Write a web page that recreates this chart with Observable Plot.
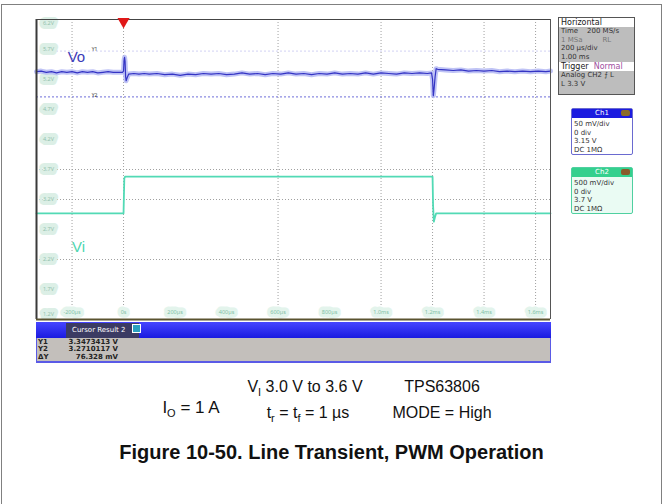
<!DOCTYPE html>
<html><head><meta charset="utf-8">
<script src="https://cdn.jsdelivr.net/npm/d3@7"></script>
<script src="https://cdn.jsdelivr.net/npm/@observablehq/plot@0.6"></script>
<style>
body{margin:0;background:#fff;font-family:Arial,"Liberation Sans",sans-serif;}
#page{position:relative;width:663px;height:504px;overflow:hidden;background:#fff;}
.abs{position:absolute;}
#frame{left:1px;top:4px;width:659px;height:520px;border:1.5px solid #808080;}
.tiny{font-family:"DejaVu Sans",Arial,sans-serif;font-size:7px;line-height:8px;white-space:nowrap;}
.cap{font-size:16px;line-height:18px;color:#111;text-align:center;white-space:nowrap;}
sub{font-size:11px;vertical-align:-4px;line-height:0;}
</style></head><body><div id="page">
<div id="frame" class="abs"></div>
<div id="chart" class="abs" style="left:0;top:0"></div>

<!-- cursor results panel -->
<div class="abs" style="left:36px;top:322px;width:515px;height:16px;background:linear-gradient(#4646ff,#1a1ae0);"></div>
<div class="abs tiny" style="left:66px;top:323px;width:73px;height:15px;background:#3b3b63;color:#fff;line-height:15px;padding-left:6px;box-sizing:border-box;">Cursor Result 2<span style="display:inline-block;width:7px;height:7px;background:#2aa0c0;border:1px solid #fff;margin-left:6px;vertical-align:-1px"></span></div>
<div class="abs" style="left:36px;top:338px;width:515px;height:25px;background:#c3bfbb;border-bottom:2px solid #5a5ae6;border-left:1px solid #5a5ae6;border-right:1px solid #5a5ae6;box-sizing:border-box;"></div>
<div class="abs tiny" style="left:38px;top:339px;line-height:7.3px;font-weight:bold;color:#222;">Y1<br>Y2<br>ΔY</div>
<div class="abs tiny" style="left:60px;top:339px;width:58px;line-height:7.3px;text-align:right;font-weight:bold;color:#222;">3.3473413 V<br>3.2710117 V<br>76.328 mV</div>

<!-- Horizontal panel -->
<div class="abs" style="left:558px;top:17px;width:77px;height:78px;background:#bdbdbd;border:1px solid #555;box-sizing:border-box;overflow:hidden;">
 <div class="tiny" style="background:#fff;color:#222;font-size:8px;line-height:9px;padding-left:2px;">Horizontal</div>
 <div class="tiny" style="color:#333;padding-left:2px;line-height:8.5px;">Time&nbsp;&nbsp;&nbsp;&nbsp;200 MS/s<br><span style="color:#777">1 MSa&nbsp;&nbsp;&nbsp;&nbsp;&nbsp;&nbsp;&nbsp;&nbsp;&nbsp;RL</span><br>200 µs/div<br>1.00 ms</div>
 <div class="tiny" style="background:#fff;color:#222;font-size:8px;line-height:9px;padding-left:2px;margin-top:1px;">Trigger&nbsp;&nbsp;<span style="color:#a050a0">Normal</span></div>
 <div class="tiny" style="color:#333;padding-left:2px;line-height:8.5px;">Analog&nbsp;CH2&nbsp;⨍&nbsp;L<br>L&nbsp;3.3 V</div>
</div>

<!-- Ch1 panel -->
<div class="abs" style="left:571px;top:108px;width:62px;height:47px;background:#fff;border:1px solid #6a6ad0;box-sizing:border-box;border-radius:2px;">
 <div class="tiny" style="background:#1c1ce0;color:#fff;height:9px;line-height:9px;text-align:center;position:relative;">Ch1<span style="position:absolute;right:2px;top:1px;width:9px;height:6px;background:#8a6b2a;border-radius:2px"></span></div>
 <div class="tiny" style="color:#333;padding-left:2px;line-height:8.5px;margin-top:2px;">50 mV/div<br>0 div<br>3.15 V<br>DC 1MΩ</div>
</div>

<!-- Ch2 panel -->
<div class="abs" style="left:571px;top:167px;width:62px;height:47px;background:#eafbf3;border:1px solid #4fd0a0;box-sizing:border-box;border-radius:2px;">
 <div class="tiny" style="background:#34d08e;color:#fff;height:9px;line-height:9px;text-align:center;position:relative;">Ch2<span style="position:absolute;right:2px;top:1px;width:9px;height:6px;background:#8a5a2a;border-radius:2px"></span></div>
 <div class="tiny" style="color:#333;padding-left:2px;line-height:8.5px;margin-top:2px;">500 mV/div<br>0 div<br>3.7 V<br>DC 1MΩ</div>
</div>

<!-- conditions -->
<div class="abs cap" style="left:131px;top:399px;width:120px;font-size:17px;">I<sub>O</sub> = 1 A</div>
<div class="abs cap" style="left:225px;top:378px;width:160px;">V<sub>I</sub> 3.0 V to 3.6 V</div>
<div class="abs cap" style="left:228px;top:404px;width:160px;">t<sub>r</sub> = t<sub>f</sub> = 1 µs</div>
<div class="abs cap" style="left:382px;top:378px;width:120px;">TPS63806</div>
<div class="abs cap" style="left:382px;top:404px;width:120px;">MODE = High</div>
<div class="abs cap" style="left:0;top:440px;width:663px;font-size:20px;line-height:24px;font-weight:bold;">Figure 10-50. Line Transient, PWM Operation</div>
</div>
<script>
// Vo (Ch1) trace: time in µs, volts
const voTime = [-338,-320,-300,-280,-260,-240,-220,-200,-180,-160,-140,-120,-100,-80,-60,-40,-20,-4,0,2,4,6,8,10,14,20,40,60,80,100,130,160,190,220,250,280,310,340,370,400,430,460,490,520,550,580,610,640,670,700,730,760,790,820,850,880,910,940,970,1000,1030,1060,1090,1120,1150,1180,1196,1200,1203,1206,1210,1214,1220,1250,1280,1310,1340,1370,1400,1430,1460,1490,1520,1550,1580,1610,1640,1658];
const voVolt = [3.313,3.314,3.312,3.313,3.311,3.313,3.312,3.313,3.311,3.313,3.312,3.313,3.311,3.312,3.313,3.312,3.312,3.312,3.314,3.332,3.337,3.330,3.305,3.298,3.303,3.309,3.310,3.309,3.310,3.309,3.310,3.308,3.309,3.307,3.309,3.308,3.310,3.309,3.310,3.308,3.309,3.311,3.309,3.310,3.308,3.310,3.309,3.311,3.309,3.310,3.308,3.310,3.309,3.311,3.309,3.310,3.309,3.311,3.309,3.311,3.310,3.309,3.311,3.310,3.311,3.310,3.311,3.300,3.273,3.285,3.305,3.318,3.317,3.316,3.315,3.316,3.314,3.315,3.314,3.315,3.313,3.314,3.313,3.314,3.313,3.314,3.313,3.314];
// Vi (Ch2) trace
const viTime = [-338,-2,0,3,6,1198,1200,1202,1205,1209,1214,1658];
const viVolt = [2.97,2.97,2.97,3.55,3.58,3.58,3.58,3.10,2.83,2.90,2.97,2.97];
// channel settings (V/div, offset V)
const ch1Scale = 0.05, ch1Offset = 3.15;
const ch2Scale = 0.5, ch2Offset = 3.7;
// axes
const gridTimes = [-200,0,600,1000,1200,1400,1600];
const gridDivs = [0,-1,-3];
const labelTimes = [-200,0,200,400,600,800,1000,1200,1400,1600];
const timeLabels = ["-200µs","0s","200µs","400µs","600µs","800µs","1.0ms","1.2ms","1.4ms","1.6ms"];
const levelDivs = [5,4,3,2,1,0,-1,-2,-3,-4,-5];
const levelLabels = ["6.2V","5.7V","5.2V","4.7V","4.2V","3.7V","3.2V","2.7V","2.2V","1.7V","1.2V"];
const cursorNames = ["Y1","Y2"];
const cursorVolts = [3.3473413, 3.2710117];
const traceNames = ["Vo","Vi"];
const traceLabelTime = [-183,-175];
const traceLabelDiv = [3.73,-2.6];

const vo = voTime.map((t,i)=>({t, d:(voVolt[i]-ch1Offset)/ch1Scale}));
const vi = viTime.map((t,i)=>({t, d:(viVolt[i]-ch2Offset)/ch2Scale}));
const cur = cursorVolts.map((v,i)=>({name:cursorNames[i], d:(v-ch1Offset)/ch1Scale, op: i===0?0.25:0.8}));
const lev = levelDivs.map((d,i)=>({d:Math.max(-4.83,Math.min(4.87,d)), s:levelLabels[i]}));
const tl = labelTimes.map((t,i)=>({t, s:timeLabels[i]}));
const tr = traceNames.map((s,i)=>({s, t:traceLabelTime[i], d:traceLabelDiv[i]}));

const chart = Plot.plot({
  width:663, height:370,
  marginLeft:36, marginRight:113, marginTop:19, marginBottom:51,
  style:{background:"transparent", overflow:"visible"},
  x:{domain:[-338,1658], axis:null},
  y:{domain:[-5,5], axis:null},
  marks:[
    Plot.ruleX(gridTimes,{stroke:"#a0a0a0", strokeDasharray:"1,2"}),
    Plot.ruleY(gridDivs,{stroke:"#a0a0a0", strokeDasharray:"1,2"}),
    Plot.ruleY(cur,{y:"d", stroke:"#4a4ad0", strokeDasharray:"2,2", strokeOpacity:"op"}),
    Plot.text(cur,{x:-338, y:"d", text:"name", dx:58, dy:-2, fontSize:5, fill:"#333"}),
    Plot.text(lev,{x:-338, y:"d", text:"s", dx:12, fontSize:5.5, fill:"#93c2ad", stroke:"#dcefe6", strokeWidth:8, paintOrder:"stroke"}),
    Plot.text(tl,{x:"t", y:-5, text:"s", dy:-7, fontSize:5.5, fill:"#7fbfa5", stroke:"#e3f4ec", strokeWidth:7, paintOrder:"stroke"}),
    Plot.line(vo,{x:"t", y:"d", stroke:"#b4b8f3", strokeWidth:5, strokeOpacity:0.85}),
    Plot.line(vo,{x:"t", y:"d", stroke:"#3434c4", strokeWidth:1.2}),
    Plot.line(vi,{x:"t", y:"d", stroke:"#52dab5", strokeWidth:1.8}),
    Plot.text(tr,{x:"t", y:"d", text:"s", fontSize:15, fill:d=>d.s==="Vo"?"#3a3ab8":"#4dd6b0", fontFamily:"Arial"}),
    Plot.ruleX([-338],{stroke:"#3a3a3a", strokeWidth:2}),
    Plot.ruleX([1658],{stroke:"#555", strokeWidth:1}),
    Plot.ruleY([5],{stroke:"#444", strokeWidth:1.2}),
    Plot.ruleY([-5],{stroke:"#5a5330", strokeWidth:2}),
    Plot.dot([0],{x:d=>d, y:5, symbol:"triangle", rotate:180, r:4.5, fill:"#e01818", dy:2})
  ]
});
document.getElementById("chart").appendChild(chart);
</script>
</body></html>
